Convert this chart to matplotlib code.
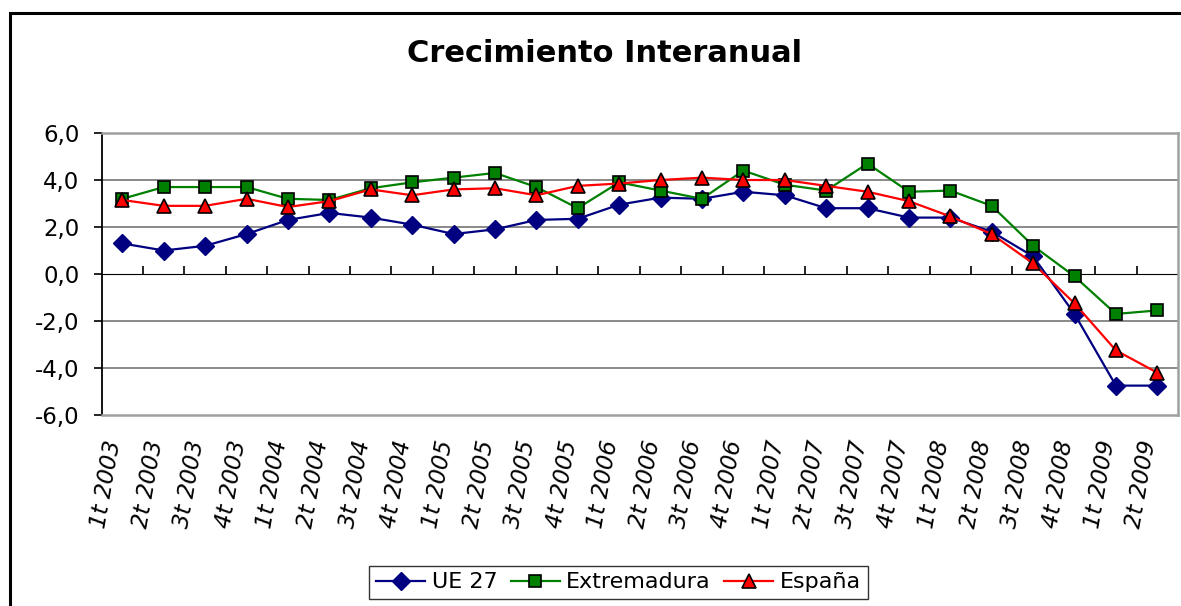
import matplotlib
matplotlib.use("Agg")
import matplotlib.pyplot as plt
from matplotlib.patches import Rectangle
from matplotlib.ticker import FuncFormatter
from matplotlib.transforms import ScaledTranslation

# data
quarters = ["1t 2003", "2t 2003", "3t 2003", "4t 2003",
            "1t 2004", "2t 2004", "3t 2004", "4t 2004",
            "1t 2005", "2t 2005", "3t 2005", "4t 2005",
            "1t 2006", "2t 2006", "3t 2006", "4t 2006",
            "1t 2007", "2t 2007", "3t 2007", "4t 2007",
            "1t 2008", "2t 2008", "3t 2008", "4t 2008",
            "1t 2009", "2t 2009"]

ue27 = [1.3, 1.0, 1.2, 1.7, 2.3, 2.6, 2.4, 2.1, 1.7, 1.9, 2.3, 2.35,
        2.95, 3.25, 3.2, 3.5, 3.35, 2.8, 2.8, 2.4, 2.4, 1.8, 0.75, -1.7,
        -4.75, -4.75]
extremadura = [3.2, 3.7, 3.7, 3.7, 3.2, 3.15, 3.65, 3.9, 4.1, 4.3, 3.7, 2.8,
               3.9, 3.55, 3.2, 4.4, 3.8, 3.55, 4.7, 3.5, 3.55, 2.9, 1.2, -0.1,
               -1.7, -1.55]
espana = [3.15, 2.9, 2.9, 3.2, 2.85, 3.1, 3.6, 3.35, 3.6, 3.65, 3.35, 3.75,
          3.85, 4.0, 4.1, 4.0, 4.0, 3.75, 3.5, 3.1, 2.45, 1.7, 0.45, -1.25,
          -3.25, -4.2]

W, H = 1181, 606
fig = plt.figure(figsize=(W / 100, H / 100), dpi=100)
ax = fig.add_axes([101.7 / W, 1 - 415 / H, (1178 - 101.7) / W, (415 - 133) / H])

x = list(range(len(quarters)))

ax.plot(x, ue27, color="#000080", lw=1.6, marker="D", ms=9,
        mfc="#000080", mec="#000080", label="UE 27", zorder=3)
ax.plot(x, extremadura, color="#008000", lw=1.6, marker="s", ms=8,
        mfc="#008000", mec="black", mew=1.2, label="Extremadura", zorder=4)
ax.plot(x, espana, color="#ff0000", lw=1.6, marker="^", ms=10,
        mfc="#ff0000", mec="black", mew=1.2, label="España", zorder=5)

ax.set_xlim(-0.5, len(quarters) - 0.5)
ax.set_ylim(-6, 6)
ax.set_yticks(range(-6, 7, 2))
ax.yaxis.set_major_formatter(FuncFormatter(lambda v, p: f"{v:.1f}".replace(".", ",")))
ax.tick_params(axis="y", length=6, width=1.2, color="black", labelsize=16.5, pad=10)

ax.set_xticks(x)
ax.set_xticklabels(quarters, rotation=80, style="italic", fontsize=16.5,
                   rotation_mode="anchor", ha="right", va="center")
ax.tick_params(axis="x", length=0, pad=18)
shift = ScaledTranslation(-8 / 100, 0, fig.dpi_scale_trans)
for lbl in ax.get_xticklabels():
    lbl.set_transform(lbl.get_transform() + shift)

# gridlines
for yv in [-4, -2, 2, 4]:
    ax.axhline(yv, color="#808080", lw=1.3, zorder=1)

for s in ["top", "right", "bottom"]:
    ax.spines[s].set_color("#a0a0a0")
    ax.spines[s].set_linewidth(1.8)
ax.spines["left"].set_color("black")
ax.spines["left"].set_linewidth(1.3)

# zero axis with category boundary ticks
zero_ax = ax.secondary_xaxis(0.5)
zero_ax.set_xticks([i + 0.5 for i in range(len(quarters) - 1)])
zero_ax.tick_params(length=6, width=1.2, color="black", labelbottom=False, labeltop=False)
zero_ax.spines["bottom"].set_color("black")
zero_ax.spines["bottom"].set_linewidth(1.3)

fig.text(605 / W, 1 - 53 / H, "Crecimiento Interanual", fontsize=22,
         fontweight="bold", ha="center", va="center")

leg = fig.legend(loc="center", bbox_to_anchor=(618.5 / W, 1 - 582.5 / H), ncol=3,
                 fontsize=16, frameon=True, fancybox=False, handlelength=2.2,
                 columnspacing=0.6, handletextpad=0.3, borderpad=0.3)
leg.get_frame().set_edgecolor("black")
leg.get_frame().set_linewidth(1.0)

# outer chart border
fig.patches.append(Rectangle((10 / W, -0.05), 1.1, 1 - 13 / H + 0.05,
                             transform=fig.transFigure, fill=False,
                             edgecolor="black", lw=2.2))

fig.savefig("out.png", dpi=100)
